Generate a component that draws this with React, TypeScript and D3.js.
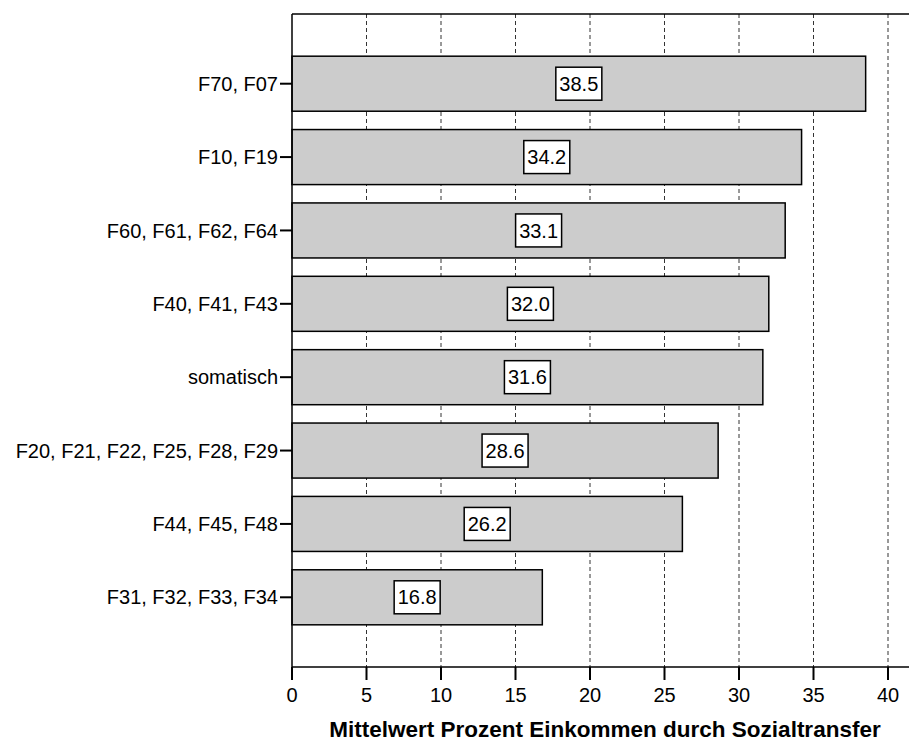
import React from "react";
import * as d3 from "d3";

const categories = [
  "F70, F07",
  "F10, F19",
  "F60, F61, F62, F64",
  "F40, F41, F43",
  "somatisch",
  "F20, F21, F22, F25, F28, F29",
  "F44, F45, F48",
  "F31, F32, F33, F34",
];
const values = [38.5, 34.2, 33.1, 32.0, 31.6, 28.6, 26.2, 16.8];
const xTicks = [0, 5, 10, 15, 20, 25, 30, 35, 40];
const xTitle = "Mittelwert Prozent Einkommen durch Sozialtransfer";

export default function App() {
  const W = 909, H = 743;
  const left = 292, right = 888, top = 14, bottom = 667;
  const x = d3.scaleLinear().domain([0, 40]).range([left, right]);
  const y = d3
    .scaleBand<string>()
    .domain(categories)
    .range([top, bottom])
    .paddingInner(0.25)
    .paddingOuter(0.575);
  const font = "'Liberation Sans', Arial, sans-serif";
  return (
    <svg
      width={W}
      height={H}
      style={{ position: "absolute", left: 0, top: 0, background: "#fff" }}
      fontFamily={font}
    >
      {xTicks
        .filter((t) => t > 0)
        .map((t) => (
          <line
            key={"g" + t}
            x1={x(t)}
            x2={x(t)}
            y1={top}
            y2={bottom}
            stroke="#333"
            strokeWidth={1}
            strokeDasharray="4,3"
          />
        ))}
      <line x1={left} x2={W} y1={top} y2={top} stroke="#000" strokeWidth={1.5} />
      {categories.map((c, i) => {
        const y0 = y(c)!;
        const bh = y.bandwidth();
        const xe = x(values[i]);
        const cx = (x(0) + xe) / 2;
        const cy = y0 + bh / 2;
        return (
          <g key={c}>
            <rect
              x={x(0)}
              y={y0}
              width={xe - x(0)}
              height={bh}
              fill="#cccccc"
              stroke="#000"
              strokeWidth={1.5}
            />
            <rect
              x={cx - 23}
              y={cy - 16.5}
              width={46}
              height={33}
              fill="#fff"
              stroke="#000"
              strokeWidth={1.5}
            />
            <text
              x={cx}
              y={cy}
              dy="0.36em"
              textAnchor="middle"
              fontSize={20}
              fill="#000"
            >
              {values[i].toFixed(1)}
            </text>
            <line x1={left - 12} x2={left} y1={cy} y2={cy} stroke="#000" strokeWidth={2} />
            <text
              x={left - 14}
              y={cy}
              dy="0.36em"
              textAnchor="end"
              fontSize={20}
              fill="#000"
            >
              {c}
            </text>
          </g>
        );
      })}
      <line x1={left} x2={left} y1={top} y2={bottom} stroke="#000" strokeWidth={1.5} />
      <line x1={left} x2={W} y1={bottom} y2={bottom} stroke="#000" strokeWidth={1.5} />
      {xTicks.map((t) => (
        <g key={"t" + t}>
          <line x1={x(t)} x2={x(t)} y1={bottom} y2={bottom + 13} stroke="#000" strokeWidth={2} />
          <text x={x(t)} y={702} textAnchor="middle" fontSize={20} fill="#000">
            {t}
          </text>
        </g>
      ))}
      <text
        x={605}
        y={737}
        textAnchor="middle"
        fontSize={22.5}
        fontWeight="bold"
        fill="#000"
      >
        {xTitle}
      </text>
    </svg>
  );
}
